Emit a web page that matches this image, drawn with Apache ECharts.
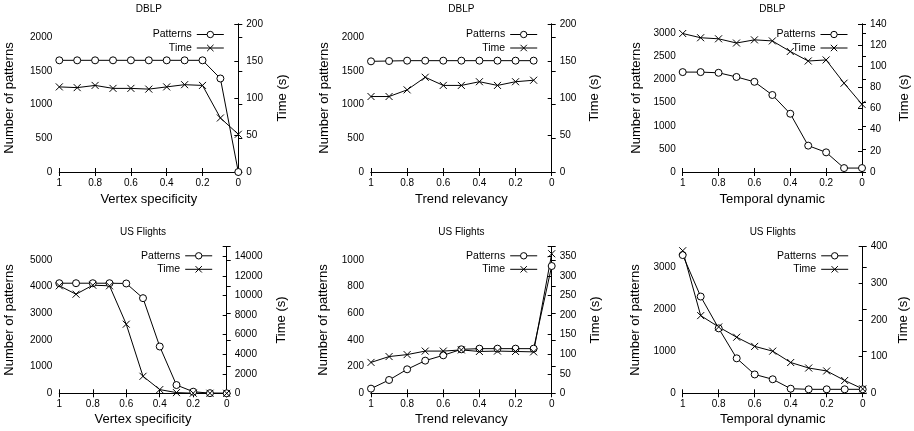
<!DOCTYPE html>
<html><head><meta charset="utf-8">
<script src="https://cdn.jsdelivr.net/npm/echarts@6/dist/echarts.min.js"></script>
<style>html,body{margin:0;padding:0;background:#fff}#c{width:914px;height:431px}</style>
</head><body><div id="c"></div>
<script>
// ---- data ----
const xFull = [1, 0.9, 0.8, 0.7, 0.6, 0.5, 0.4, 0.3, 0.2, 0.1, 0];
const xNoZero = [1, 0.9, 0.8, 0.7, 0.6, 0.5, 0.4, 0.3, 0.2, 0.1];
const xTickLabels = ['1', '0.8', '0.6', '0.4', '0.2', '0'];

const dblpVertexPatterns = [1660, 1660, 1660, 1660, 1660, 1660, 1660, 1660, 1660, 1390, 0];
const dblpVertexTime = [115, 114, 117, 113, 113, 112, 115, 118, 117, 73, 51];
const dblpTrendPatterns = [1645, 1650, 1655, 1655, 1655, 1655, 1655, 1655, 1655, 1655];
const dblpTrendTime = [102, 102, 111, 128, 117, 117, 122, 117, 122, 124];
const dblpTemporalPatterns = [2160, 2160, 2145, 2055, 1950, 1665, 1260, 570, 425, 85, 85];
const dblpTemporalTime = [131, 127, 126, 122, 125, 124, 114, 105, 106, 84, 64];
const usVertexPatterns = [4130, 4130, 4130, 4130, 4120, 3570, 1755, 310, 60, 5, 0];
const usVertexTime = [11000, 10140, 11060, 11000, 7070, 1740, 380, 70, 10, 5, 0];
const usTrendPatterns = [35, 100, 180, 245, 285, 330, 335, 335, 335, 335, 955];
const usTrendTime = [79, 94, 99, 108, 108, 111, 107, 108, 107, 106, 357];
const usTemporalPatterns = [3300, 2310, 1550, 835, 450, 335, 110, 95, 95, 95, 95];
const usTemporalTime = [389, 212, 181, 153, 128, 115, 84, 69, 61, 35, 12];

const titles = ['DBLP', 'DBLP', 'DBLP', 'US Flights', 'US Flights', 'US Flights'];
const xNames = ['Vertex specificity', 'Trend relevancy', 'Temporal dynamic',
                'Vertex specificity', 'Trend relevancy', 'Temporal dynamic'];
const yName = 'Number of patterns';
const y2Name = 'Time (s)';
const seriesNames = ['Patterns', 'Time'];

// ---- layout / scales ----
const FONT = '"Liberation Sans", Arial, Helvetica, sans-serif';
const panels = [
  {x: xFull,   p: dblpVertexPatterns,   t: dblpVertexTime,   yMax: 2200, yInt: 500,  y2Max: 200,   y2Int: 50,   g: {left: 59.3, top: 24, width: 179, height: 148}, lg: 43, rg: 38, xg: 21},
  {x: xNoZero, p: dblpTrendPatterns,    t: dblpTrendTime,    yMax: 2200, yInt: 500,  y2Max: 200,   y2Int: 50,   g: {left: 371, top: 24, width: 180.7, height: 148}, lg: 40.5, rg: 36.5, xg: 21},
  {x: xFull,   p: dblpTemporalPatterns, t: dblpTemporalTime, yMax: 3200, yInt: 500,  y2Max: 140,   y2Int: 20,   g: {left: 682.7, top: 24, width: 179.3, height: 148}, lg: 40, rg: 36, xg: 21},
  {x: xFull,   p: usVertexPatterns,     t: usVertexTime,     yMax: 5500, yInt: 1000, y2Max: 15000, y2Int: 2000, g: {left: 59.3, top: 246.7, width: 167.4, height: 146.6}, lg: 43.5, rg: 48.5, xg: 20},
  {x: xFull,   p: usTrendPatterns,      t: usTrendTime,      yMax: 1100, yInt: 200,  y2Max: 375,   y2Int: 50,   g: {left: 371, top: 246.7, width: 180.7, height: 146.6}, lg: 41, rg: 37, xg: 20},
  {x: xFull,   p: usTemporalPatterns,   t: usTemporalTime,   yMax: 3500, yInt: 1000, y2Max: 400,   y2Int: 100,  g: {left: 682.7, top: 246.7, width: 180, height: 146.6}, lg: 41, rg: 34, xg: 20}
];

const CROSS = 'path://M0,0L10,10M10,0L0,10';
const axisLineStyle = {show: true, lineStyle: {color: '#000', width: 1}};
const tickStyle = {show: true, inside: true, length: 4, lineStyle: {color: '#000', width: 1}};
const labelStyle = {color: '#000', fontSize: 10, fontFamily: FONT};
const yNameStyle = {color: '#000', fontSize: 13, fontFamily: FONT};
const xNameStyle = {color: '#000', fontSize: 13, fontFamily: FONT};

const option = {
  animation: false,
  backgroundColor: '#fff',
  title: [], grid: [], xAxis: [], yAxis: [], series: [], legend: []
};

function fmtX(v) { const s = String(+v.toFixed(1)); return xTickLabels.indexOf(s) >= 0 ? s : ''; }
function fmtMult(step) { return function (v) { return Math.abs(v / step - Math.round(v / step)) < 1e-6 ? String(v) : ''; }; }

panels.forEach(function (pn, i) {
  const g = pn.g;
  option.grid.push({left: g.left, top: g.top, width: g.width, height: g.height, containLabel: false, show: false});
  option.title.push({
    text: titles[i], left: g.left + g.width / 2, top: g.top - 19.5,
    textAlign: 'center', padding: 0,
    textStyle: {color: '#000', fontSize: 10, fontWeight: 'normal', fontFamily: FONT}
  });
  option.xAxis.push({
    gridIndex: i, type: 'value', position: 'bottom', min: 0, max: 1, interval: 0.2, inverse: true,
    name: xNames[i], nameLocation: 'middle', nameGap: pn.xg, nameTextStyle: xNameStyle,
    axisLine: axisLineStyle, axisTick: tickStyle, splitLine: {show: false},
    axisLabel: Object.assign({formatter: fmtX, margin: 6}, labelStyle)
  });
  option.xAxis.push({
    gridIndex: i, type: 'value', position: 'top', min: 0, max: 1, interval: 0.2, inverse: true,
    axisLine: axisLineStyle, axisTick: tickStyle, splitLine: {show: false}, axisLabel: {show: false}
  });
  option.yAxis.push({
    gridIndex: i, type: 'value', position: 'left', min: 0, max: pn.yMax, interval: pn.yInt,
    name: yName, nameLocation: 'middle', nameGap: pn.lg, nameRotate: 90, nameTextStyle: yNameStyle,
    axisLine: axisLineStyle, axisTick: tickStyle, splitLine: {show: false},
    axisLabel: Object.assign({formatter: fmtMult(pn.yInt), margin: 7}, labelStyle)
  });
  option.yAxis.push({
    gridIndex: i, type: 'value', position: 'right', min: 0, max: pn.y2Max, interval: pn.y2Int,
    name: y2Name, nameLocation: 'middle', nameGap: pn.rg, nameRotate: 90, nameTextStyle: yNameStyle,
    axisLine: axisLineStyle, axisTick: tickStyle, splitLine: {show: false},
    axisLabel: Object.assign({formatter: fmtMult(pn.y2Int), margin: 8}, labelStyle)
  });
  option.series.push({
    name: seriesNames[0], type: 'line', xAxisIndex: 2 * i, yAxisIndex: 2 * i,
    data: pn.x.map(function (xv, k) { return [xv, pn.p[k]]; }),
    symbol: 'circle', symbolSize: 7, showAllSymbol: true,
    lineStyle: {color: '#000', width: 1},
    itemStyle: {color: '#fff', borderColor: '#000', borderWidth: 1},
    emphasis: {disabled: true}
  });
  option.series.push({
    name: seriesNames[1], type: 'line', xAxisIndex: 2 * i, yAxisIndex: 2 * i + 1,
    data: pn.x.map(function (xv, k) { return [xv, pn.t[k]]; }),
    symbol: CROSS, symbolSize: 7, showAllSymbol: true,
    lineStyle: {color: '#000', width: 1},
    itemStyle: {color: '#000', borderColor: '#000', borderWidth: 1},
    emphasis: {disabled: true}
  });
  const sampleRight = g.left + g.width - 14;
  option.legend.push({
    right: 914 - sampleRight, top: g.top + (i < 3 ? 5 : 3.6),
    orient: 'vertical', align: 'right', padding: 0, itemGap: 2.5,
    itemWidth: 27, itemHeight: 8, selectedMode: false,
    data: seriesNames,
    lineStyle: {width: 1, color: '#000'},
    itemStyle: {borderWidth: 1, borderColor: '#000'},
    textStyle: {color: '#000', fontSize: 10.5, fontFamily: FONT}
  });
});

const chart = echarts.init(document.getElementById('c'), null, {renderer: 'canvas'});
chart.setOption(option);
</script></body></html>
